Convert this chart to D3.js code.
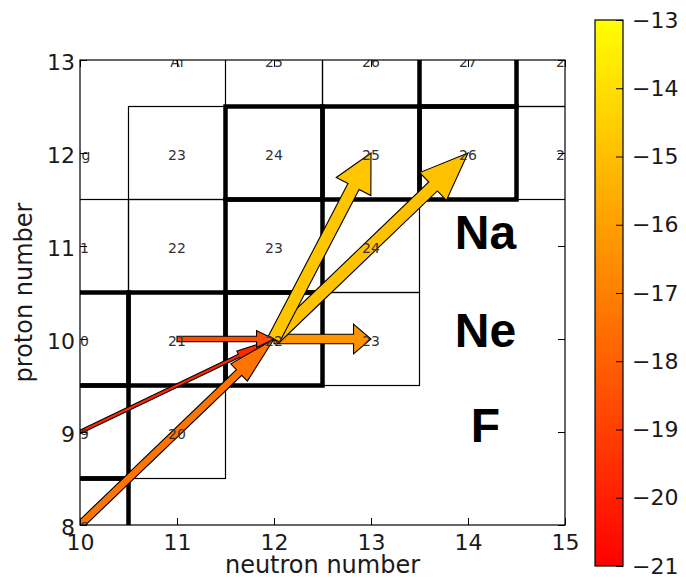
<!DOCTYPE html>
<html>
<head>
<meta charset="utf-8">
<script src="https://cdn.jsdelivr.net/npm/d3@7"></script>
<style>
  html, body { margin: 0; padding: 0; background: #fff; }
  svg { display: block; }
</style>
</head>
<body>
<svg id="chart" width="686" height="579"></svg>
<script>
// Nuclide network, one row per element
const elementNames  = ["O", "F", "Ne", "Na", "Mg", "Al"];
const protonNumbers = [8, 9, 10, 11, 12, 13];
const lightestMass  = [18, 19, 20, 21, 23, 25];
const heaviestMass  = [18, 20, 23, 24, 27, 28];
const stableMasses  = [[16, 17, 18], [19], [20, 21, 22], [23], [24, 25, 26], [27]];

// Reaction fluxes (log10) between nuclides, each end given as [N, Z]
const fluxSource = [[10, 9], [11, 10], [10, 8], [12, 10], [12, 10], [12, 10]];
const fluxTarget = [[12, 10], [12, 10], [12, 10], [13, 10], [13, 12], [14, 12]];
const fluxLog    = [-19.7, -18.6, -17.4, -16.4, -14.8, -14.9];

// Axis and colour bar ticks
const neutronTicks = [10, 11, 12, 13, 14, 15];
const protonTicks  = [8, 9, 10, 11, 12, 13];
const colorTicks   = [-13, -14, -15, -16, -17, -18, -19, -20, -21];

// Element names written beside the chart
const sideNames = ["Na", "Ne", "F"];
const sideZ     = [11.15, 10.1, 9.08];

const svg = d3.select("#chart");
const plot = { left: 80, right: 565, top: 60, bottom: 525 };

const x = d3.scaleLinear().domain([10, 15]).range([plot.left, plot.right]);
const y = d3.scaleLinear().domain([8, 13]).range([plot.bottom, plot.top]);
const color = d3.scaleLinear().domain([-21, -13]).range(["#ff0000", "#ffff00"]);
const shaft = d3.scaleLinear().domain([-21, -13]).range([0.9, 16]);

const FONT = "'DejaVu Sans', 'Bitstream Vera Sans', sans-serif";

svg.append("defs").append("clipPath").attr("id", "plot-clip")
  .append("rect")
  .attr("x", plot.left).attr("y", plot.top)
  .attr("width", plot.right - plot.left).attr("height", plot.bottom - plot.top);

const inner = svg.append("g").attr("clip-path", "url(#plot-clip)");

// ---- nuclide boxes
const boxes = [];
protonNumbers.forEach((z, i) => {
  for (let a = lightestMass[i]; a <= heaviestMass[i]; a++) {
    boxes.push({ z, n: a - z, a, stable: stableMasses[i].includes(a) });
  }
});

function boxRect(sel) {
  sel.attr("x", d => x(d.n - 0.5))
     .attr("y", d => y(d.z + 0.5))
     .attr("width", d => x(d.n + 0.5) - x(d.n - 0.5))
     .attr("height", d => y(d.z - 0.5) - y(d.z + 0.5))
     .attr("fill", "none")
     .attr("stroke", "#000");
}

inner.append("g").selectAll("rect")
  .data(boxes.filter(d => !d.stable)).join("rect")
  .call(boxRect).attr("stroke-width", 1.2);

inner.append("g").selectAll("rect")
  .data(boxes.filter(d => d.stable)).join("rect")
  .call(boxRect).attr("stroke-width", 4.5);

// ---- flux arrows
const arrows = fluxLog.map((v, i) => ({
  v,
  x0: x(fluxSource[i][0]), y0: y(fluxSource[i][1]),
  x1: x(fluxTarget[i][0]), y1: y(fluxTarget[i][1])
})).sort((a, b) => a.v - b.v);

function arrowPoints(d) {
  const dx = d.x1 - d.x0, dy = d.y1 - d.y0;
  const L = Math.hypot(dx, dy);
  const ux = dx / L, uy = dy / L, px = -uy, py = ux;
  const w = shaft(d.v), hw = 3.1 * w, hl = 0.18 * L;
  const local = [[0, w / 2], [L - hl, w / 2], [L - hl, hw / 2], [L, 0],
                 [L - hl, -hw / 2], [L - hl, -w / 2], [0, -w / 2]];
  return local.map(([a, b]) => [d.x0 + ux * a + px * b, d.y0 + uy * a + py * b]);
}

const line = d3.line();
inner.append("g").selectAll("path")
  .data(arrows).join("path")
  .attr("d", d => line(arrowPoints(d)) + "Z")
  .attr("fill", d => color(d.v))
  .attr("stroke", "#000")
  .attr("stroke-width", 1.1)
  .attr("stroke-linejoin", "miter");

// ---- mass numbers and element names (only those that fall inside the axes)
const labels = boxes.map(d => ({ n: d.n, z: d.z, text: String(d.a) }));
protonNumbers.forEach((z, i) => {
  labels.push({ n: lightestMass[i] - z - 1, z, text: elementNames[i] });
});
const [nMin, nMax] = x.domain();

inner.append("g").selectAll("text")
  .data(labels.filter(d => d.n >= nMin && d.n <= nMax)).join("text")
  .attr("x", d => x(d.n))
  .attr("y", d => y(d.z))
  .attr("dy", "0.48em")
  .attr("text-anchor", "middle")
  .attr("font-family", FONT)
  .attr("font-size", 14)
  .attr("fill", "#333")
  .text(d => d.text);

// ---- frame and ticks
function styleAxis(g) {
  g.select(".domain").remove();
  g.selectAll(".tick line").attr("stroke", "#000").attr("stroke-width", 1);
  g.selectAll(".tick text").attr("font-family", FONT).attr("font-size", 22).attr("fill", "#1a1a1a");
}

svg.append("g").attr("transform", `translate(0,${plot.bottom})`)
  .call(d3.axisBottom(x).tickValues(neutronTicks).tickFormat(d3.format("d"))
    .tickSizeInner(-7).tickSizeOuter(0).tickPadding(9))
  .call(styleAxis);

svg.append("g").attr("transform", `translate(0,${plot.top})`)
  .call(d3.axisTop(x).tickValues(neutronTicks).tickFormat("")
    .tickSizeInner(-7).tickSizeOuter(0))
  .call(styleAxis);

const yAxis = svg.append("g").attr("transform", `translate(${plot.left},0)`)
  .call(d3.axisLeft(y).tickValues(protonTicks).tickFormat(d3.format("d"))
    .tickSizeInner(-7).tickSizeOuter(0).tickPadding(5))
  .call(styleAxis);
yAxis.selectAll(".tick text").attr("dy", "0.42em");

svg.append("g").attr("transform", `translate(${plot.right},0)`)
  .call(d3.axisRight(y).tickValues(protonTicks).tickFormat("")
    .tickSizeInner(-7).tickSizeOuter(0))
  .call(styleAxis);

svg.append("rect")
  .attr("x", plot.left).attr("y", plot.top)
  .attr("width", plot.right - plot.left).attr("height", plot.bottom - plot.top)
  .attr("fill", "none").attr("stroke", "#000").attr("stroke-width", 1.2);

// ---- axis titles
svg.append("text")
  .attr("x", (plot.left + plot.right) / 2).attr("y", 573)
  .attr("text-anchor", "middle")
  .attr("font-family", FONT).attr("font-size", 24).attr("fill", "#1a1a1a")
  .text("neutron number");

svg.append("text")
  .attr("transform", `translate(32,${(plot.top + plot.bottom) / 2}) rotate(-90)`)
  .attr("text-anchor", "middle")
  .attr("font-family", FONT).attr("font-size", 24).attr("fill", "#1a1a1a")
  .text("proton number");

// ---- element names beside the network
svg.append("g").selectAll("text")
  .data(sideNames).join("text")
  .attr("x", x(14.18))
  .attr("y", (d, i) => y(sideZ[i]) + 17)
  .attr("text-anchor", "middle")
  .attr("font-family", "'Liberation Sans', Arial, Helvetica, sans-serif")
  .attr("font-weight", "bold")
  .attr("font-size", 48)
  .attr("fill", "#000")
  .text(d => d);

// ---- colour bar
const bar = { x: 595, width: 28, top: 20, bottom: 566 };
const cy = d3.scaleLinear().domain([-21, -13]).range([bar.bottom, bar.top]);

const grad = svg.select("defs").append("linearGradient")
  .attr("id", "flux-grad")
  .attr("x1", 0).attr("y1", 1).attr("x2", 0).attr("y2", 0);
d3.range(0, 1.0001, 0.125).forEach(t => {
  grad.append("stop")
    .attr("offset", t)
    .attr("stop-color", color(-21 + 8 * t));
});

svg.append("rect")
  .attr("x", bar.x).attr("y", bar.top)
  .attr("width", bar.width).attr("height", bar.bottom - bar.top)
  .attr("fill", "url(#flux-grad)")
  .attr("stroke", "#000").attr("stroke-width", 1.2);

svg.append("g").attr("transform", `translate(${bar.x + bar.width},0)`)
  .call(d3.axisRight(cy).tickValues(colorTicks).tickFormat(d3.format("d"))
    .tickSizeInner(-7).tickSizeOuter(0).tickPadding(9))
  .call(styleAxis);
</script>
</body>
</html>
